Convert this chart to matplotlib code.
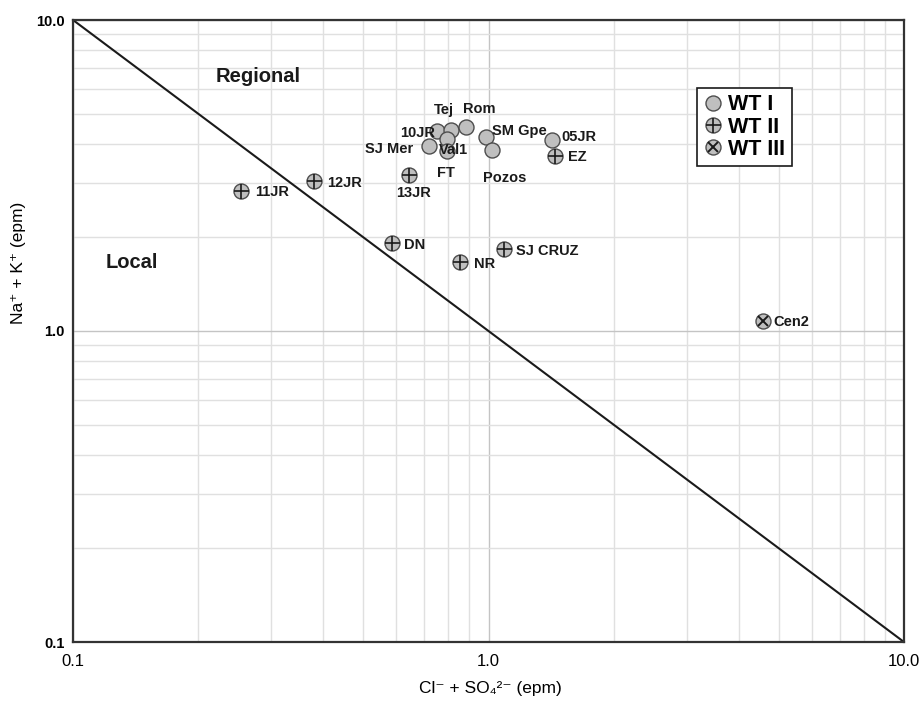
import matplotlib
matplotlib.use("Agg")
import matplotlib.pyplot as plt
from matplotlib.lines import Line2D
from matplotlib.ticker import LogLocator, FixedLocator, NullFormatter

# ---------------- data ----------------
wt1_names = ["10JR", "Tej", "Rom", "Val1", "SJ Mer", "FT", "SM Gpe", "Pozos", "05JR"]
wt1_x = [0.750, 0.813, 0.883, 0.793, 0.720, 0.793, 0.985, 1.018, 1.42]
wt1_y = [4.41, 4.43, 4.52, 4.13, 3.93, 3.80, 4.22, 3.82, 4.11]

wt2_names = ["11JR", "12JR", "13JR", "DN", "NR", "SJ CRUZ", "EZ"]
wt2_x = [0.254, 0.380, 0.644, 0.586, 0.853, 1.09, 1.446]
wt2_y = [2.82, 3.03, 3.18, 1.92, 1.67, 1.84, 3.66]

wt3_names = ["Cen2"]
wt3_x = [4.58]
wt3_y = [1.08]

line_x = [0.1, 10.0]
line_y = [10.0, 0.1]

tick_vals = [0.1, 1.0, 10.0]
tick_labels = ["0.1", "1.0", "10.0"]

# label offsets in pixels (dx right, dy down) and alignment
label_offsets = {
    "10JR": (-2, 2, "right"), "Tej": (-7, -20, "center"), "Rom": (13, -18, "center"),
    "Val1": (-8, 11, "left"), "SJ Mer": (-16, 3, "right"), "FT": (-1, 22, "center"),
    "SM Gpe": (6, -6, "left"), "Pozos": (13, 28, "center"), "05JR": (10, -3, "left"),
    "11JR": (14, 1, "left"), "12JR": (13, 2, "left"), "13JR": (4, 18, "center"),
    "DN": (12, 2, "left"), "NR": (14, 2, "left"), "SJ CRUZ": (12, 2, "left"),
    "EZ": (13, 1, "left"), "Cen2": (10, 1, "left"),
}

# ---------------- style ----------------
plt.rcParams["font.family"] = ["Liberation Sans", "DejaVu Sans"]
FILL = "#bfbfbf"
EDGE = "#4d4d4d"
MS = 10.8  # marker diameter in points
TXT = "#1a1a1a"

fig = plt.figure(figsize=(9.21, 7.05), dpi=100)
ax = fig.add_axes([73 / 921, 1 - 642 / 705, (904 - 73) / 921, (642 - 20) / 705])
ax.set_xscale("log")
ax.set_yscale("log")
ax.set_xlim(0.1, 10)
ax.set_ylim(0.1, 10)

# grid
ax.xaxis.set_major_locator(FixedLocator(tick_vals))
ax.yaxis.set_major_locator(FixedLocator(tick_vals))
ax.xaxis.set_minor_locator(LogLocator(base=10, subs=range(2, 10)))
ax.yaxis.set_minor_locator(LogLocator(base=10, subs=range(2, 10)))
ax.xaxis.set_minor_formatter(NullFormatter())
ax.yaxis.set_minor_formatter(NullFormatter())
ax.grid(True, which="major", color="#c4c4c4", linewidth=1.0, zorder=0)
ax.grid(True, which="minor", color="#e0e0e0", linewidth=1.0, zorder=0)
ax.set_axisbelow(True)
ax.tick_params(which="both", length=0)
ax.set_xticklabels(tick_labels, fontsize=12)
ax.set_yticklabels(tick_labels, fontsize=10.5, fontweight="bold")
ax.tick_params(axis="x", pad=9)
ax.tick_params(axis="y", pad=6)
for sp in ax.spines.values():
    sp.set_color("#333333")
    sp.set_linewidth(1.6)

# dividing line
ax.plot(line_x, line_y, color="#1a1a1a", linewidth=1.5, zorder=2)

# markers
ax.plot(wt1_x, wt1_y, "o", ms=MS, mfc=FILL, mec=EDGE, mew=1.0, zorder=3)
ax.plot(wt2_x, wt2_y, "o", ms=MS, mfc=FILL, mec=EDGE, mew=1.0, zorder=3)
ax.plot(wt2_x, wt2_y, "+", ms=MS, mec="#1a1a1a", mew=1.2, zorder=4)
ax.plot(wt3_x, wt3_y, "o", ms=MS, mfc=FILL, mec=EDGE, mew=1.0, zorder=3)
ax.plot(wt3_x, wt3_y, "x", ms=MS * 0.72, mec="#1a1a1a", mew=1.4, zorder=4)

# labels
for names, xs, ys in [(wt1_names, wt1_x, wt1_y), (wt2_names, wt2_x, wt2_y),
                      (wt3_names, wt3_x, wt3_y)]:
    for n, x, y in zip(names, xs, ys):
        dx, dy, ha = label_offsets[n]
        ax.annotate(n, (x, y), xytext=(dx * 0.72, -dy * 0.72), textcoords="offset points",
                    ha=ha, va="center", fontsize=10.5, fontweight="bold", color=TXT,
                    zorder=5)

# region texts
ax.text((258 - 73) / 831, (642 - 77) / 622, "Regional", transform=ax.transAxes,
        ha="center", va="center", fontsize=14.5, fontweight="bold", color=TXT)
ax.text((132 - 73) / 831, (642 - 262) / 622, "Local", transform=ax.transAxes,
        ha="center", va="center", fontsize=14.5, fontweight="bold", color=TXT)

# axis labels
ax.set_xlabel("Cl\u207B + SO\u2084\u00B2\u207B (epm)", fontsize=12.5)
ax.xaxis.set_label_coords(0.502, -0.063)
ax.set_ylabel("Na\u207A + K\u207A (epm)", fontsize=12.5)
ax.yaxis.set_label_coords(-0.057, 0.610)

# legend
h1 = Line2D([], [], ls="none", marker="o", ms=MS, mfc=FILL, mec=EDGE, mew=1.0)
h2a = Line2D([], [], ls="none", marker="o", ms=MS, mfc=FILL, mec=EDGE, mew=1.0)
h2b = Line2D([], [], ls="none", marker="+", ms=MS, mec="#1a1a1a", mew=1.2)
h3a = Line2D([], [], ls="none", marker="o", ms=MS, mfc=FILL, mec=EDGE, mew=1.0)
h3b = Line2D([], [], ls="none", marker="x", ms=MS * 0.72, mec="#1a1a1a", mew=1.4)
leg = ax.legend([h1, (h2a, h2b), (h3a, h3b)], ["WT I", "WT II", "WT III"],
                loc="upper left", bbox_to_anchor=((697 - 73) / 831, (642 - 88) / 622),
                fancybox=False, framealpha=1, edgecolor="#1a1a1a",
                prop={"weight": "bold", "size": 15.5}, handlelength=0.9,
                handletextpad=0.25, borderpad=0.3, labelspacing=0.05,
                borderaxespad=0)
leg.get_frame().set_linewidth(1.2)

fig.savefig("out.png", dpi=100)
